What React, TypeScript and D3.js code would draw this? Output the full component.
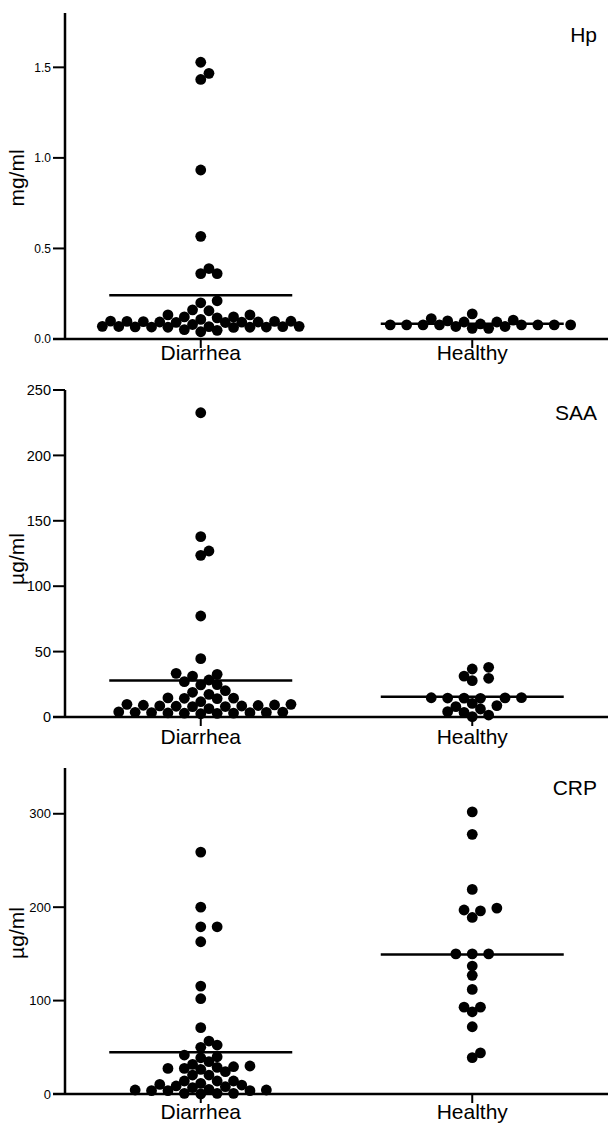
import React, { useEffect, useRef } from 'react';
import * as d3 from 'd3';

const categories = ['Diarrhea', 'Healthy'];

// Hp, mg/ml
const hpDiarrhea = [1.528, 1.467, 1.433, 0.933, 0.567, 0.389, 0.361, 0.361, 0.211, 0.2, 0.161, 0.156, 0.133, 0.133,
  0.122, 0.122, 0.117, 0.097, 0.092, 0.094, 0.099, 0.093, 0.096, 0.098, 0.094, 0.091, 0.097, 0.066, 0.068, 0.065,
  0.07, 0.067, 0.064, 0.069, 0.066, 0.068, 0.065, 0.07, 0.04, 0.048, 0.052, 0.08, 0.108];
const hpHealthy = [0.078, 0.078, 0.139, 0.094, 0.104, 0.078, 0.094, 0.078, 0.069, 0.059, 0.069, 0.059, 0.083, 0.078,
  0.1, 0.078, 0.113, 0.078, 0.078];

// SAA, ug/ml
const saaDiarrhea = [232.6, 137.9, 126.9, 123.6, 77.2, 44.6, 33.4, 31.3, 32.6, 27.0, 24.5, 24.8, 28.3, 20.1, 17.3,
  18.9, 14.3, 14.6, 14.1, 14.4, 11.7, 9.7, 7.9, 8.4, 9.0, 8.2, 8.8, 8.0, 8.5, 9.2, 9.7, 6.4, 3.3, 2.8, 3.6, 3.1, 3.9,
  2.5, 3.4, 3.0, 3.7, 2.9, 3.5];
const saaHealthy = [38.0, 31.3, 27.8, 29.6, 36.7, 14.5, 14.3, 14.8, 14.6, 14.4, 14.7, 8.7, 6.1, 3.5, 0.3, 1.5, 4.1,
  7.9, 10.4];

// CRP, ug/ml
const crpDiarrhea = [259, 200, 179, 179, 163, 115.5, 102, 71, 56.7, 52.4, 50, 41.7, 38.8, 39.9, 31.7, 29.2, 27.4,
  26.4, 27.4, 28.5, 30, 34.6, 20.3, 20.3, 23.9, 13.9, 13.9, 10.3, 8.6, 7.8, 9.6, 11.4, 13.9, 6.8, 4.3, 3.6, 3.6, 0.7,
  0, 0.7, 0.7, 3.6, 4.3, 5];
const crpHealthy = [302, 278, 219, 199, 197, 196, 189, 150, 150, 150, 137, 127, 112, 93, 93, 88, 72, 44, 39];

const hpTicks = [0, 0.5, 1.0, 1.5];
const saaTicks = [0, 50, 100, 150, 200, 250];
const crpTicks = [0, 100, 200, 300];

const FONT = '"Liberation Sans", Arial, Helvetica, sans-serif';

const panels = [
  { title: 'Hp', unit: 'mg/ml', groups: [hpDiarrhea, hpHealthy], ticks: hpTicks, max: 1.8, fmt: '.1f',
    top: 13, base: 339, tickFont: 12, titleY: 42, unitY: 178, catDy: 21 },
  { title: 'SAA', unit: 'µg/ml', groups: [saaDiarrhea, saaHealthy], ticks: saaTicks, max: 250, fmt: 'd',
    top: 390, base: 717, tickFont: 14.5, titleY: 420, unitY: 559, catDy: 27 },
  { title: 'CRP', unit: 'µg/ml', groups: [crpDiarrhea, crpHealthy], ticks: crpTicks, max: 349, fmt: 'd',
    top: 768, base: 1094, tickFont: 13, titleY: 795, unitY: 933, catDy: 25 },
];

const W = 608, H = 1124;
const axisX = 65;
const R = 5.4;

// prism-like beeswarm: lowest values first, pushed sideways in half-column steps
function swarm(values, y, cx, step, minDist) {
  const pts = values.map(v => ({ v, y: y(v), x: cx })).sort((a, b) => a.v - b.v);
  const placed = [];
  pts.forEach(p => {
    for (let k = 0; k < 400; k++) {
      const off = k === 0 ? 0 : (k % 2 ? 1 : -1) * Math.ceil(k / 2);
      const x = cx + off * step;
      if (placed.every(q => (q.x - x) ** 2 + (q.y - p.y) ** 2 >= minDist * minDist)) {
        p.x = x;
        break;
      }
    }
    placed.push(p);
  });
  return placed;
}

export default function App() {
  const ref = useRef(null);

  useEffect(() => {
    const svg = d3.select(ref.current);
    svg.selectAll('*').remove();

    const x = d3.scalePoint().domain(categories).range([axisX, W]).padding(0.5);

    panels.forEach(p => {
      const g = svg.append('g');
      const y = d3.scaleLinear().domain([0, p.max]).range([p.base, p.top]);

      // y axis
      g.append('line')
        .attr('x1', axisX).attr('x2', axisX)
        .attr('y1', y(p.max)).attr('y2', y(0))
        .attr('stroke', '#000').attr('stroke-width', 2.5);

      const fmt = d3.format(p.fmt);
      p.ticks.forEach(t => {
        g.append('line')
          .attr('x1', axisX - 12).attr('x2', axisX)
          .attr('y1', y(t)).attr('y2', y(t))
          .attr('stroke', '#000').attr('stroke-width', 2);
        g.append('text')
          .attr('x', axisX - 14).attr('y', y(t))
          .attr('dy', '0.36em')
          .attr('text-anchor', 'end')
          .attr('font-size', p.tickFont)
          .text(fmt(t));
      });

      // x axis
      g.append('line')
        .attr('x1', axisX - 12).attr('x2', W)
        .attr('y1', y(0)).attr('y2', y(0))
        .attr('stroke', '#000').attr('stroke-width', 2.5);

      categories.forEach((c, i) => {
        const cx = x(c);
        g.append('line')
          .attr('x1', cx).attr('x2', cx)
          .attr('y1', y(0)).attr('y2', y(0) + 9)
          .attr('stroke', '#000').attr('stroke-width', 2);
        g.append('text')
          .attr('x', cx).attr('y', y(0) + p.catDy)
          .attr('text-anchor', 'middle')
          .attr('font-size', 21)
          .text(c);

        const dots = swarm(p.groups[i], y, cx, 8.2, 8.9);
        g.selectAll(null)
          .data(dots)
          .enter()
          .append('circle')
          .attr('cx', d => d.x)
          .attr('cy', d => d.y)
          .attr('r', R)
          .attr('fill', '#000');

        const m = d3.mean(p.groups[i]);
        g.append('line')
          .attr('x1', cx - 91.5).attr('x2', cx + 91.5)
          .attr('y1', y(m)).attr('y2', y(m))
          .attr('stroke', '#000').attr('stroke-width', 2.5);
      });

      g.append('text')
        .attr('x', 597).attr('y', p.titleY)
        .attr('text-anchor', 'end')
        .attr('font-size', 21)
        .text(p.title);

      g.append('text')
        .attr('transform', `translate(24,${p.unitY}) rotate(-90)`)
        .attr('text-anchor', 'middle')
        .attr('font-size', 21)
        .text(p.unit);
    });
  }, []);

  return (
    <svg
      ref={ref}
      width={W}
      height={H}
      style={{ position: 'absolute', left: 0, top: 0, background: '#fff', fontFamily: FONT }}
    />
  );
}
